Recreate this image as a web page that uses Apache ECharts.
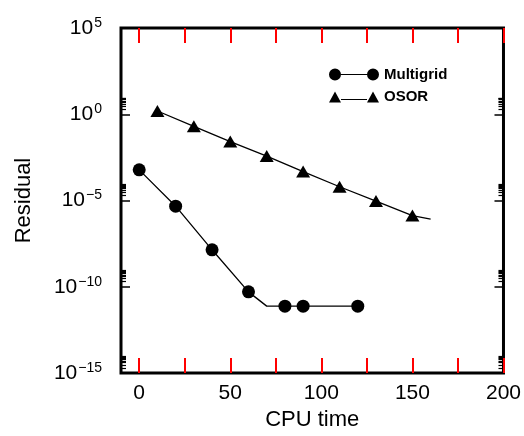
<!DOCTYPE html>
<html>
<head>
<meta charset="utf-8">
<script src="https://cdn.jsdelivr.net/npm/echarts@6/dist/echarts.min.js"></script>
<style>
  html, body { margin: 0; padding: 0; background: #fff; }
  #chart { width: 524px; height: 436px; }
</style>
</head>
<body>
<div id="chart"></div>
<script>
// Residual history of the two solvers against CPU time
const multigridTime     = [0, 20, 40, 60, 70, 80, 90, 120];
const multigridResidual = [6.0e-4, 4.7e-6, 1.4e-8, 5.1e-11, 7.6e-12, 7.6e-12, 7.6e-12, 7.6e-12];
const multigridMarked   = [true, true, true, true, false, true, true, true];

const osorTime     = [10, 30, 50, 70, 90, 110, 130, 150, 160];
const osorResidual = [1.55, 0.2, 0.026, 3.8e-3, 4.8e-4, 6.3e-5, 9.3e-6, 1.35e-6, 8.5e-7];
const osorMarked   = [true, true, true, true, true, true, true, true, false];

const xTickLabels = [0, 50, 100, 150, 200];
const xTickMarks  = [0, 25, 50, 75, 100, 125, 150, 175, 200];
const yExponents  = [-15, -10, -5, 0, 5];

// small log ticks (2..9 times each labelled decade)
const yMinorTicks = [];
yExponents.slice(0, 4).forEach(function (e) {
  [2, 3, 4, 5, 6, 7, 8, 9].forEach(function (k) { yMinorTicks.push(k * Math.pow(10, e)); });
});

function points(xs, ys, marked) {
  return xs.map(function (x, i) {
    return marked[i] ? [x, ys[i]] : { value: [x, ys[i]], symbol: 'none' };
  });
}

const FONT = '"Liberation Sans", Arial, Helvetica, sans-serif';
const chart = echarts.init(document.getElementById('chart'), null, { renderer: 'canvas' });

function expLabel(v) {
  const e = Math.round(Math.log10(v));
  return '{b|10}{s|' + String(e).replace('-', '\u2212') + '}';
}

function xAxisOn(side, extra) {
  return Object.assign({
    type: 'value', min: -10, max: 200, position: side,
    axisLine: { show: false, onZero: false },
    splitLine: { show: false },
    axisTick: { show: true, inside: true, length: 15, customValues: xTickMarks.slice(), lineStyle: { color: 'red', width: 2 } }
  }, extra);
}

function yAxisOn(side, tickValues, tickLength, extra) {
  const tick = { show: true, inside: true, length: tickLength, lineStyle: { color: '#000', width: tickValues ? 1.2 : 1.5 } };
  if (tickValues) tick.customValues = tickValues.slice();
  return Object.assign({
    type: 'log', logBase: 10, min: 1e-15, max: 1e5, interval: 5, position: side,
    axisLine: { show: false, onZero: false },
    splitLine: { show: false },
    axisTick: tick,
    axisLabel: { show: false }
  }, extra);
}

chart.setOption({
  animation: false,
  backgroundColor: '#fff',
  grid: {
    left: 121, right: 20, top: 28, bottom: 61,
    show: true, borderColor: '#000', borderWidth: 3
  },
  legend: {
    orient: 'vertical', left: 324, top: 62,
    itemWidth: 50, itemHeight: 12, itemGap: 7.5,
    textStyle: { fontFamily: FONT, fontSize: 15, fontWeight: 'bold', color: '#000' },
    data: [
      { name: 'Multigrid', icon: 'path://M0,6A6,6,0,1,1,12,6A6,6,0,1,1,0,6ZM38,6A6,6,0,1,1,50,6A6,6,0,1,1,38,6ZM12,5.4L38,5.4L38,6.6L12,6.6Z' },
      { name: 'OSOR', icon: 'path://M0,12L6,1L12,12ZM38,12L44,1L50,12ZM12,8.4L38,8.4L38,9.6L12,9.6Z' }
    ]
  },
  xAxis: [
    xAxisOn('bottom', {
      name: 'CPU time', nameLocation: 'middle', nameGap: 34,
      nameTextStyle: { fontFamily: FONT, fontSize: 22, color: '#000' },
      axisLabel: { customValues: xTickLabels, margin: 10, fontFamily: FONT, fontSize: 21, color: '#000' }
    }),
    xAxisOn('top', { axisLabel: { show: false } })
  ],
  yAxis: [
    yAxisOn('left', null, 9, {
      name: 'Residual', nameLocation: 'middle', nameGap: 86, nameRotate: 90,
      nameTextStyle: { fontFamily: FONT, fontSize: 22, color: '#000' },
      axisLabel: {
        margin: 19, formatter: expLabel,
        rich: {
          b: { fontFamily: FONT, fontSize: 21, color: '#000', lineHeight: 24 },
          s: { fontFamily: FONT, fontSize: 14, color: '#000', lineHeight: 24, verticalAlign: 'top', padding: [0, 0, 8, 1] }
        }
      }
    }),
    yAxisOn('left', yMinorTicks, 5, {}),
    yAxisOn('right', null, 9, {}),
    yAxisOn('right', yMinorTicks, 5, {})
  ],
  series: [
    {
      name: 'Multigrid', type: 'line', xAxisIndex: 0, yAxisIndex: 0,
      data: points(multigridTime, multigridResidual, multigridMarked),
      symbol: 'circle', symbolSize: 13, showAllSymbol: true,
      lineStyle: { color: '#000', width: 1.3 }, itemStyle: { color: '#000' }
    },
    {
      name: 'OSOR', type: 'line', xAxisIndex: 0, yAxisIndex: 0,
      data: points(osorTime, osorResidual, osorMarked),
      symbol: 'triangle', symbolSize: [14, 12], showAllSymbol: true,
      lineStyle: { color: '#000', width: 1.3 }, itemStyle: { color: '#000' }
    }
  ]
});
</script>
</body>
</html>
